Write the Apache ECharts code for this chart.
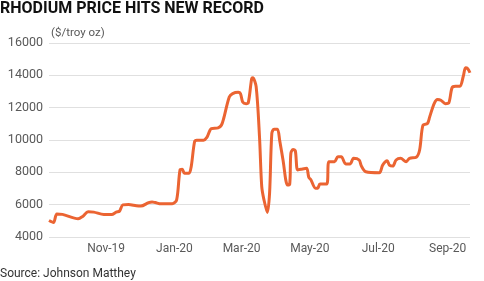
<!DOCTYPE html>
<html>
<head>
<meta charset="utf-8">
<script src="https://cdn.jsdelivr.net/npm/echarts@6/dist/echarts.min.js"></script>
<style>
  html, body { margin: 0; padding: 0; background: #fff; }
  #chart { width: 484px; height: 281px; }
</style>
</head>
<body>
<div id="chart"></div>
<script>
// rhodium price ($/troy oz)
var dates = [
  '2019-09-11','2019-09-15','2019-09-18','2019-09-23','2019-10-07','2019-10-11','2019-10-16','2019-10-21',
  '2019-10-30','2019-11-06','2019-11-10','2019-11-13','2019-11-16','2019-11-21','2019-11-28','2019-12-02',
  '2019-12-09','2019-12-12','2019-12-15','2019-12-20','2019-12-30','2020-01-03','2020-01-06','2020-01-08',
  '2020-01-10','2020-01-14','2020-01-16','2020-01-19','2020-01-21','2020-01-27','2020-01-30','2020-02-03',
  '2020-02-09','2020-02-12','2020-02-14','2020-02-19','2020-02-22','2020-02-27','2020-02-29','2020-03-02',
  '2020-03-05','2020-03-07','2020-03-10','2020-03-11','2020-03-14','2020-03-17','2020-03-19','2020-03-21',
  '2020-03-24','2020-03-26','2020-03-28','2020-03-30','2020-04-02','2020-04-04','2020-04-07','2020-04-11',
  '2020-04-13','2020-04-14','2020-04-16','2020-04-18','2020-04-20','2020-04-23','2020-04-28','2020-04-30',
  '2020-05-02','2020-05-06','2020-05-08','2020-05-10','2020-05-16','2020-05-18','2020-05-23','2020-05-26',
  '2020-05-29','2020-06-02','2020-06-06','2020-06-09','2020-06-14','2020-06-16','2020-06-20','2020-07-02',
  '2020-07-05','2020-07-09','2020-07-11','2020-07-14','2020-07-17','2020-07-21','2020-07-26','2020-07-29',
  '2020-08-04','2020-08-07','2020-08-10','2020-08-14','2020-08-16','2020-08-20','2020-08-23','2020-08-26',
  '2020-08-30','2020-09-02','2020-09-05','2020-09-08','2020-09-12','2020-09-15','2020-09-17','2020-09-19',
  '2020-09-21'
];
var prices = [
  5020, 4900, 5420, 5400, 5130, 5270, 5560, 5540,
  5390, 5390, 5540, 5600, 5990, 6010, 5930, 5910,
  6130, 6170, 6130, 6050, 6050, 6300, 8150, 8190,
  7940, 7940, 8350, 9890, 9990, 9990, 10160, 10710,
  10750, 10920, 11330, 12660, 12870, 12950, 12870, 12350,
  12250, 12310, 13790, 13850, 13300, 10200, 7120, 6300,
  5520, 6710, 10410, 10670, 10670, 9990, 8760, 7220,
  7280, 9170, 9420, 9330, 8150, 8190, 8250, 7700,
  7530, 7020, 7020, 7280, 7280, 8660, 8660, 8960,
  8960, 8520, 8520, 8870, 8760, 8390, 8040, 7980,
  8450, 8720, 8450, 8390, 8760, 8870, 8660, 8870,
  8930, 9380, 10920, 11020, 11430, 12250, 12500, 12460,
  12250, 12290, 13240, 13320, 13320, 13940, 14470, 14410,
  14160
];
var tickDates = ['2019-11-01', '2020-01-01', '2020-03-01', '2020-05-01', '2020-07-01', '2020-09-01'];
var tickLabels = ['Nov-19', 'Jan-20', 'Mar-20', 'May-20', 'Jul-20', 'Sep-20'];

var chart = echarts.init(document.getElementById('chart'));
var grey = '#595959';
var labelFont = 'Roboto, "Noto Sans", sans-serif';

function ts(d) { return Date.parse(d + 'T00:00:00Z'); }
var seriesData = dates.map(function (d, i) { return [ts(d), prices[i]]; });
var tickTimes = tickDates.map(ts);

chart.setOption({
  animation: false,
  title: [{
    text: 'RHODIUM PRICE HITS NEW RECORD',
    left: 0, top: 1, padding: 0,
    textStyle: { fontFamily: labelFont, fontWeight: 'bold', fontSize: 16, color: '#111' }
  }, {
    text: 'Source: Johnson Matthey',
    left: 0, top: 268, padding: 0,
    textStyle: { fontFamily: labelFont, fontWeight: 'normal', fontSize: 12, color: '#333' }
  }, {
    text: '($/troy oz)',
    left: 51, top: 27, padding: 0,
    textStyle: { fontFamily: labelFont, fontWeight: 'normal', fontSize: 11.5, color: grey }
  }],
  grid: { left: 49, right: 14, top: 43, bottom: 44, containLabel: false },
  xAxis: {
    type: 'value',
    min: ts(dates[0]),
    max: ts(dates[dates.length - 1]),
    axisLine: { show: false },
    axisTick: { show: false },
    splitLine: { show: false },
    axisLabel: {
      customValues: tickTimes,
      margin: 6,
      color: grey, fontSize: 12, fontFamily: labelFont,
      formatter: function (v) {
        var i = tickTimes.indexOf(v);
        return i >= 0 ? tickLabels[i] : '';
      }
    }
  },
  yAxis: {
    type: 'value',
    min: 4000, max: 16000, interval: 2000,
    axisLine: { show: false },
    axisTick: { show: false },
    splitLine: { lineStyle: { color: '#e0e0e0', width: 1 } },
    axisLabel: {
      color: grey, fontSize: 12.5, fontFamily: labelFont, margin: 6,
      formatter: function (v) { return String(v); }
    }
  },
  series: [{
    type: 'line',
    data: seriesData,
    smooth: 0.3,
    showSymbol: false,
    lineStyle: { color: '#eb6432', width: 3 }
  }]
});
</script>
</body>
</html>
